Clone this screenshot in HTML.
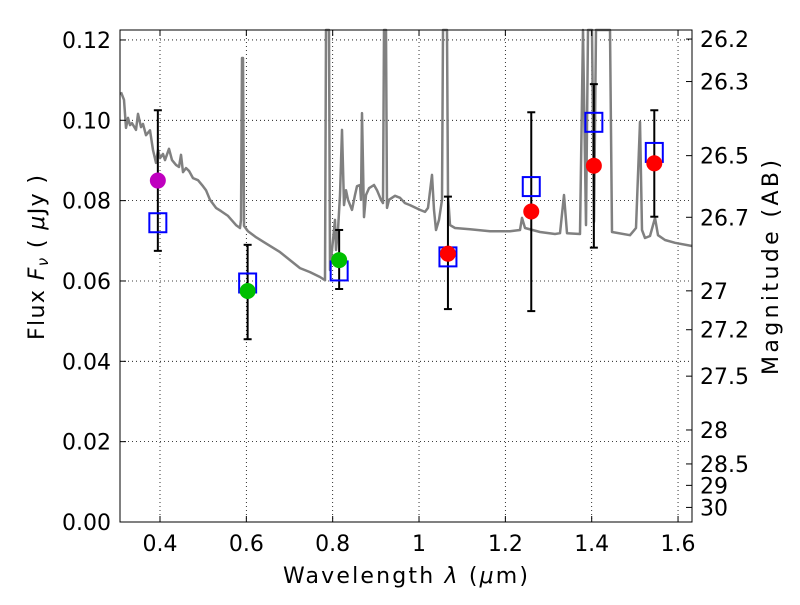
<!DOCTYPE html>
<html><head><meta charset="utf-8"><style>
body{margin:0;background:#fff;}
svg text{font-family:"DejaVu Sans","Liberation Sans",sans-serif;fill:#000;}
</style></head><body>
<svg width="800" height="600" viewBox="0 0 800 600">
<g id="grid"></g>
<g id="spec"></g>
<g id="pts"></g>
<rect x="120" y="30" width="572" height="492" fill="none" stroke="#000" stroke-width="1"/>
<g id="ticks"></g>
<text x="283" y="583" font-size="22" textLength="245" lengthAdjust="spacing">Wavelength  <tspan font-style="italic">λ</tspan> (<tspan font-style="italic">μ</tspan>m)</text>
<text transform="translate(44,340) rotate(-90)" font-size="22" textLength="165" lengthAdjust="spacing">Flux  <tspan font-style="italic">F<tspan font-size="15" dy="4">ν</tspan></tspan><tspan dy="-4">  ( </tspan><tspan font-style="italic">μ</tspan>Jy )</text>
<text transform="translate(778,375) rotate(-90)" font-size="22" textLength="215" lengthAdjust="spacing">Magnitude (AB)</text>
</svg>
<script>
const xTicks=[0.4,0.6,0.8,1.0,1.2,1.4,1.6];
const xTickLabels=["0.4","0.6","0.8","1","1.2","1.4","1.6"];
const yTicks=[0,0.02,0.04,0.06,0.08,0.10,0.12];
const yTickLabels=["0.00","0.02","0.04","0.06","0.08","0.10","0.12"];
const magTicks=[26.2,26.3,26.5,26.7,27,27.2,27.5,28,28.5,29,30];
const bandWl=[0.395,0.603,0.815,1.067,1.26,1.405,1.545];
const obsFlux=[0.085,0.0575,0.0652,0.0668,0.0773,0.0887,0.0893];
const modelFlux=[0.0745,0.0595,0.0625,0.066,0.0835,0.0995,0.092];
const errLow=[0.0675,0.0455,0.058,0.053,0.0525,0.0683,0.076];
const errHigh=[0.1025,0.069,0.0727,0.081,0.102,0.109,0.1025];
const pointColors=["#bf00bf","#00bf00","#00bf00","#ff0000","#ff0000","#ff0000","#ff0000"];
const spectrum=[[0.3097,0.1070],[0.3166,0.1051],[0.3212,0.0981],[0.3259,0.1006],[0.3305,0.0988],[0.3351,0.0993],[0.3444,0.0976],[0.3490,0.1016],[0.3560,0.0983],[0.3606,0.0991],[0.3676,0.0963],[0.3768,0.0975],[0.3838,0.0926],[0.3907,0.0894],[0.3954,0.0926],[0.4000,0.0906],[0.4069,0.0916],[0.4116,0.0901],[0.4208,0.0929],[0.4278,0.0901],[0.4371,0.0889],[0.4440,0.0884],[0.4486,0.0914],[0.4533,0.0871],[0.4602,0.0881],[0.4672,0.0874],[0.4764,0.0856],[0.4880,0.0851],[0.4996,0.0836],[0.5066,0.0826],[0.5158,0.0802],[0.5297,0.0782],[0.5413,0.0774],[0.5575,0.0762],[0.5760,0.0739],[0.5853,0.0732],[0.5876,0.0752],[0.5899,0.1155],[0.5923,0.1155],[0.5946,0.0737],[0.6038,0.0724],[0.6224,0.0709],[0.6432,0.0695],[0.6780,0.0672],[0.7011,0.0652],[0.7243,0.0632],[0.7475,0.0622],[0.7706,0.0610],[0.7822,0.0602],[0.7845,0.1225],[0.7915,0.1225],[0.7938,0.0627],[0.8007,0.0702],[0.8054,0.0752],[0.8077,0.0677],[0.8123,0.0727],[0.8170,0.0814],[0.8216,0.0976],[0.8262,0.0789],[0.8309,0.0826],[0.8355,0.0802],[0.8448,0.0777],[0.8517,0.0814],[0.8564,0.0836],[0.8633,0.0839],[0.8656,0.0802],[0.8679,0.1018],[0.8726,0.0759],[0.8772,0.0814],[0.8841,0.0831],[0.8957,0.0839],[0.9027,0.0826],[0.9119,0.0802],[0.9166,0.0794],[0.9189,0.1225],[0.9235,0.1225],[0.9258,0.0782],[0.9305,0.0802],[0.9444,0.0812],[0.9560,0.0807],[0.9676,0.0794],[0.9791,0.0789],[1.0023,0.0777],[1.0139,0.0772],[1.0208,0.0782],[1.0301,0.0864],[1.0347,0.0777],[1.0393,0.0727],[1.0463,0.0752],[1.0532,0.0802],[1.0556,0.1225],[1.0648,0.1225],[1.0671,0.0814],[1.0718,0.0739],[1.0834,0.0732],[1.1181,0.0729],[1.1644,0.0724],[1.2108,0.0724],[1.2339,0.0727],[1.2386,0.0757],[1.2455,0.0732],[1.2803,0.0722],[1.3150,0.0717],[1.3266,0.0719],[1.3359,0.0814],[1.3428,0.0719],[1.3729,0.0717],[1.3798,0.1225],[1.3868,0.0739],[1.3914,0.1225],[1.4007,0.1225],[1.4053,0.0747],[1.4100,0.1225],[1.4192,0.1225],[1.4424,0.1225],[1.4470,0.0722],[1.4887,0.0714],[1.5026,0.0732],[1.5119,0.0996],[1.5165,0.0727],[1.5235,0.0707],[1.5350,0.0712],[1.5466,0.0757],[1.5536,0.0714],[1.5698,0.0702],[1.5929,0.0695],[1.6323,0.0687]];
const X0=0.4,XPX0=160,XS=431.7,YPX0=522,YS=4017;
const sx=v=>XPX0+(v-X0)*XS;
const sy=v=>YPX0-v*YS;
const NS="http://www.w3.org/2000/svg";
function mk(parent,tag,attrs,txt){const e=document.createElementNS(NS,tag);for(const k in attrs)e.setAttribute(k,attrs[k]);if(txt!==undefined)e.textContent=txt;document.getElementById(parent).appendChild(e);return e;}
xTicks.forEach((t,i)=>{const x=sx(t);
const g=mk('grid','line',{x1:x,x2:x,y1:30,y2:522,stroke:'#000','stroke-width':0.8,'stroke-dasharray':'1,3'});

const a=mk('ticks','line',{x1:x,x2:x,y1:522,y2:516,stroke:'#000'});
const b=mk('ticks','line',{x1:x,x2:x,y1:30,y2:36,stroke:'#000'});
const l=mk('ticks','text',{x:x,y:551,'font-size':22,'text-anchor':'middle'},xTickLabels[i]);});
yTicks.forEach((t,i)=>{const y=sy(t);
const g=mk('grid','line',{x1:120,x2:692,y1:y,y2:y,stroke:'#000','stroke-width':0.8,'stroke-dasharray':'1,3'});

const a=mk('ticks','line',{x1:120,x2:126,y1:y,y2:y,stroke:'#000'});
const l=mk('ticks','text',{x:111,y:y+8,'font-size':22,'text-anchor':'end'},yTickLabels[i]);});
magTicks.forEach(m=>{const f=Math.pow(10,(23.9-m)/2.5);const y=sy(f);
const a=mk('ticks','line',{x1:686,x2:692,y1:y,y2:y,stroke:'#000'});
const l=mk('ticks','text',{x:700,y:y+8,'font-size':22},String(m));});
const d=spectrum.map((pt,i)=>(i?'L':'M')+sx(pt[0]).toFixed(1)+','+Math.max(30,sy(pt[1])).toFixed(1)).join('');
const p=mk('spec','path',{d:d,fill:'none',stroke:'#808080','stroke-width':2.5,'stroke-linejoin':'round'});

bandWl.forEach((w,i)=>{const x=sx(w);
const e=mk('pts','line',{x1:x,x2:x,y1:sy(errLow[i]),y2:sy(errHigh[i]),stroke:'#000','stroke-width':2});
[errLow[i],errHigh[i]].forEach(v=>{const c=mk('pts','line',{x1:x-4,x2:x+4,y1:sy(v),y2:sy(v),stroke:'#000','stroke-width':2});});
const s=mk('pts','rect',{x:x-8.5,y:sy(modelFlux[i])-9.5,width:17,height:19,fill:'none',stroke:'#0000ff','stroke-width':2});
const c=mk('pts','circle',{cx:x,cy:sy(obsFlux[i]),r:8,fill:pointColors[i]});});
</script>
</body></html>
